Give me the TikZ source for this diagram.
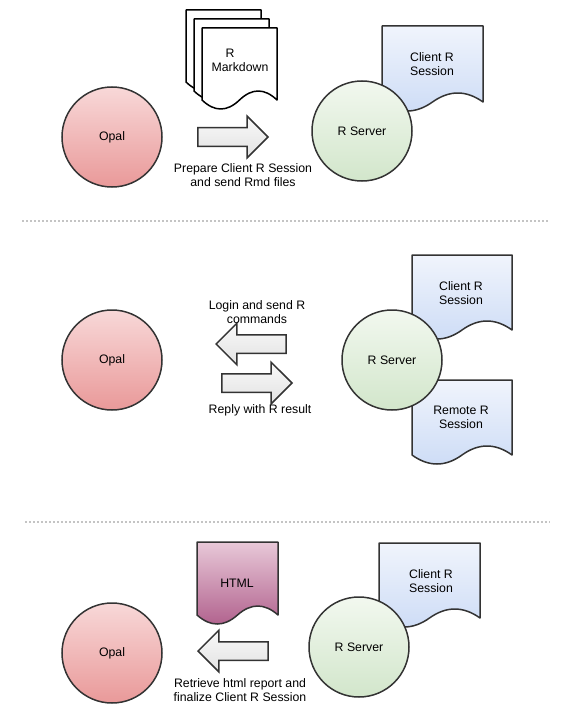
\documentclass[tikz,border=0pt]{standalone}
\usepackage{fontspec}
\setmainfont{Liberation Sans}
\usetikzlibrary{shapes.arrows}

\definecolor{linegray}{HTML}{333333}
\definecolor{septgray}{HTML}{C4C4C4}
\definecolor{opaltop}{HTML}{F8D8D8}
\definecolor{opalbot}{HTML}{E99999}
\definecolor{servertop}{HTML}{F2F8EF}
\definecolor{serverbot}{HTML}{D2E6CB}
\definecolor{sesstop}{HTML}{F0F4FC}
\definecolor{sessbot}{HTML}{CDDCF6}
\definecolor{htmltop}{HTML}{E8C8D8}
\definecolor{htmlbot}{HTML}{B0608C}
\definecolor{arrowtop}{HTML}{F8F8F8}
\definecolor{arrowbot}{HTML}{E3E3E3}

\tikzset{
  docline/.style={draw=linegray, line width=1.5bp, line join=round},
  rmddoc/.style={docline, fill=white, draw=black},
  sessdoc/.style={docline, top color=sesstop, bottom color=sessbot},
  htmldoc/.style={docline, top color=htmltop, bottom color=htmlbot},
}

% left, top, right, bottom, style
\newcommand\docshape[5]{%
  \draw[#5] (#1,#2) -- (#3,#2) -- (#3,#4)
    .. controls ({#3-(#3-#1)/6},{#4-12}) and ({#3-(#3-#1)/3},{#4-12}) .. ({(#1+#3)/2},#4)
    .. controls ({(#1+#3)/2-(#3-#1)/6},{#4+12}) and ({#1+(#3-#1)/6},{#4+12}) .. (#1,#4) -- cycle;}

\begin{document}
\begin{tikzpicture}[x=1bp, y=-1bp,
  font=\fontsize{12.3bp}{14bp}\selectfont,
  txt/.style={align=center, inner sep=0pt},
  opalnode/.style={circle, draw=linegray, line width=1.5bp, minimum size=100bp, top color=opaltop, bottom color=opalbot},
  servernode/.style={circle, draw=linegray, line width=1.5bp, minimum size=100bp, top color=servertop, bottom color=serverbot},
  blockarrow/.style={shape=single arrow, draw=linegray, line width=1.5bp, top color=arrowtop, bottom color=arrowbot,
    minimum height=70bp, inner xsep=0pt, inner ysep=8.5bp, single arrow head extend=11.5bp, anchor=tip},
  sepline/.style={septgray, line width=1.6bp, dash pattern=on 1.6bp off 2.4bp}]

\useasboundingbox (0,0) rectangle (574,724);

\docshape{186}{10}{261}{82}{rmddoc}
\docshape{194}{19}{269}{91}{rmddoc}
\docshape{202}{28}{277}{100}{rmddoc}
\node[txt] (rmd) at (240,60) {R\rule{20bp}{0pt}\\Markdown};
\docshape{382}{26}{483}{102}{sessdoc}
\node[txt] (client1) at (432,64) {Client R\\Session};
\node[opalnode] (opal1) at (112,137) {Opal};
\node[servernode] (server1) at (362,131) {R Server};
\node[blockarrow] (send1) at (269,137) {};
\node[txt] (send1label) at (243,175) {Prepare Client R Session\\and send Rmd files};

\draw[sepline] (22,221) -- (548,221);

\docshape{412}{255}{512}{330}{sessdoc}
\node[txt] (client2) at (461,293) {Client R\\Session};
\docshape{412}{380}{512}{455}{sessdoc}
\node[txt] (remote2) at (461,417) {Remote R\\Session};
\node[opalnode] (opal2) at (112,360) {Opal};
\node[servernode] (server2) at (392,360) {R Server};
\node[blockarrow, shape border rotate=180] (login2) at (215,344) {};
\node[blockarrow] (reply2) at (293,383) {};
\node[txt] (login2label) at (257,312) {Login and send R\\commands};
\node[txt] (reply2label) at (260,410) {Reply with R result};

\draw[sepline] (25,522) -- (550,522);

\docshape{197}{542}{278}{615}{htmldoc}
\node[txt] (html3) at (237,583) {HTML};
\docshape{379}{543}{480}{618}{sessdoc}
\node[txt] (client3) at (431,581) {Client R\\Session};
\node[opalnode] (opal3) at (112,653) {Opal};
\node[servernode] (server3) at (359,647) {R Server};
\node[blockarrow, shape border rotate=180] (fetch3) at (197,651) {};
\node[txt] (fetch3label) at (240,690) {Retrieve html report and\\finalize Client R Session};

\end{tikzpicture}
\end{document}
